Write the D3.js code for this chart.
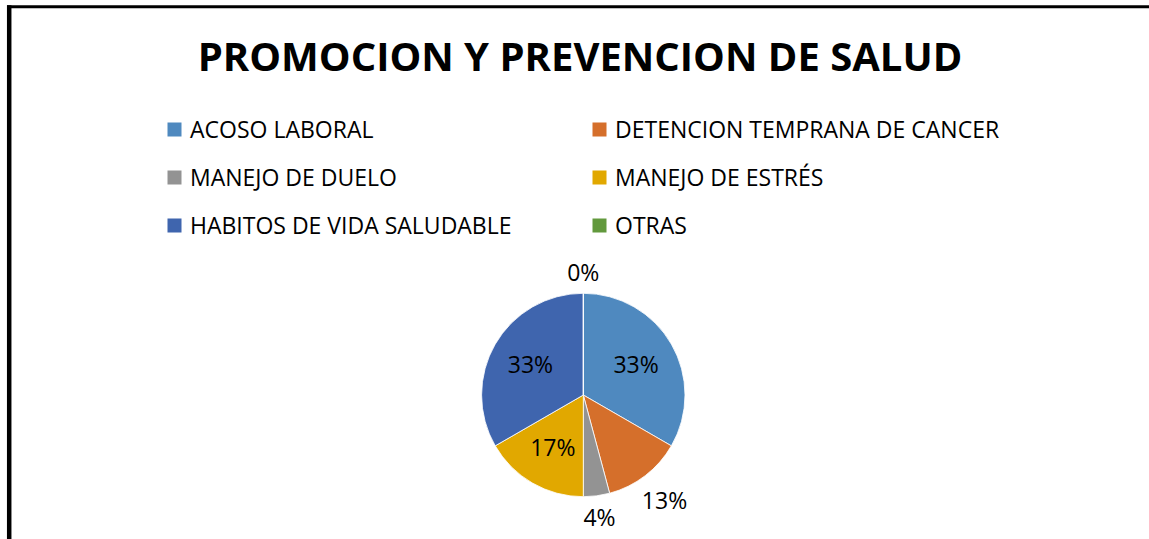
<!DOCTYPE html>
<html>
<head>
<meta charset="utf-8">
<script src="https://cdn.jsdelivr.net/npm/d3@7"></script>
<style>
  body { margin: 0; background: #fff; }
  text { font-family: "Open Sans", "Noto Sans", sans-serif; fill: #000; }
</style>
</head>
<body>
<svg id="chart" width="1149" height="539"></svg>
<script>
// ----------------------------------------------------------------------------------------------------------------------
// DATA -----------------------------------------------------------------------------------------------------------------
// ----------------------------------------------------------------------------------------------------------------------
var chartTitle = "PROMOCION Y PREVENCION DE SALUD";

var categories = [
  "ACOSO LABORAL",
  "DETENCION TEMPRANA DE CANCER",
  "MANEJO DE DUELO",
  "MANEJO DE ESTRÉS",
  "HABITOS DE VIDA SALUDABLE",
  "OTRAS"
];

// number of answers per topic
var counts = [8, 3, 1, 4, 8, 0];

var colors = ["#4F89BF", "#D56F2B", "#939393", "#E1A800", "#3F65AE", "#62993D"];

// ----------------------------------------------------------------------------------------------------------------------
// DRAWING --------------------------------------------------------------------------------------------------------------
// ----------------------------------------------------------------------------------------------------------------------
var width = 1149,
    height = 539;

var svg = d3.select("#chart");

var slices = categories.map(function(c, i) {
  return { label: c, value: counts[i], color: colors[i] };
});
var total = d3.sum(counts);

// Frame around the chart (only top and left sides are visible)
svg.append("line")
  .attr("x1", 7).attr("x2", width + 5)
  .attr("y1", 6.8).attr("y2", 6.8)
  .attr("stroke", "#000").attr("stroke-width", 3);
svg.append("line")
  .attr("x1", 9.2).attr("x2", 9.2)
  .attr("y1", 5.3).attr("y2", height + 5)
  .attr("stroke", "#000").attr("stroke-width", 4.5);

// Title
svg.append("text")
  .attr("x", 580)
  .attr("y", 71)
  .attr("text-anchor", "middle")
  .style("font-size", "40px")
  .style("font-weight", "bold")
  .text(chartTitle);

// LEGEND ---------------------------------------------------------------------------------------------------------------
var legendCol = d3.scaleOrdinal().domain([0, 1]).range([167.5, 592.5]);
var legendRow = d3.scaleLinear().domain([0, 1]).range([129.5, 177.5]);

var legend = svg.selectAll(".legend-item")
  .data(slices)
  .enter().append("g")
  .attr("class", "legend-item")
  .attr("transform", function(d, i) {
    return "translate(" + legendCol(i % 2) + "," + legendRow(Math.floor(i / 2)) + ")";
  });

legend.append("rect")
  .attr("x", 0).attr("y", -7)
  .attr("width", 14).attr("height", 14)
  .attr("fill", function(d) { return d.color; });

legend.append("text")
  .attr("x", 22.5)
  .attr("y", 0)
  .attr("dy", "0.35em")
  .style("font-size", "23px")
  .text(function(d) { return d.label; });

// PIE ------------------------------------------------------------------------------------------------------------------
var cx = 583.3,
    cy = 395,
    radius = 101.7;

var pie = d3.pie()
  .value(function(d) { return d.value; })
  .sort(null);

var arc = d3.arc()
  .innerRadius(0)
  .outerRadius(radius);

var labelArc = d3.arc()
  .innerRadius(radius * 0.6)
  .outerRadius(radius * 0.6);

var g = svg.append("g")
  .attr("transform", "translate(" + cx + "," + cy + ")");

var arcs = pie(slices);

g.selectAll(".slice")
  .data(arcs)
  .enter().append("path")
  .attr("class", "slice")
  .attr("d", arc)
  .attr("fill", function(d) { return d.data.color; })
  .attr("stroke", "#fff")
  .attr("stroke-width", 0.8);

// Percentage labels: big slices inside, small ones outside the pie
var labels = g.selectAll(".pct")
  .data(arcs)
  .enter().append("text")
  .attr("class", "pct")
  .attr("text-anchor", "middle")
  .attr("dy", "0.35em")
  .style("font-size", "23px")
  .text(function(d) { return Math.round(d.data.value / total * 100) + "%"; });

labels.each(function(d) {
  var share = d.data.value / total;
  var mid = (d.startAngle + d.endAngle) / 2;
  var sx = Math.sin(mid), sy = -Math.cos(mid);
  var pos;
  if (share >= 0.15) {
    pos = labelArc.centroid(d);
  } else {
    var box = this.getBBox();
    var dist = radius + 9 + (box.width / 2) * Math.abs(sx) + (box.height / 2 * 0.7) * Math.abs(sy);
    pos = [sx * dist, sy * dist];
  }
  d3.select(this).attr("x", pos[0]).attr("y", pos[1]);
});
</script>
</body>
</html>
